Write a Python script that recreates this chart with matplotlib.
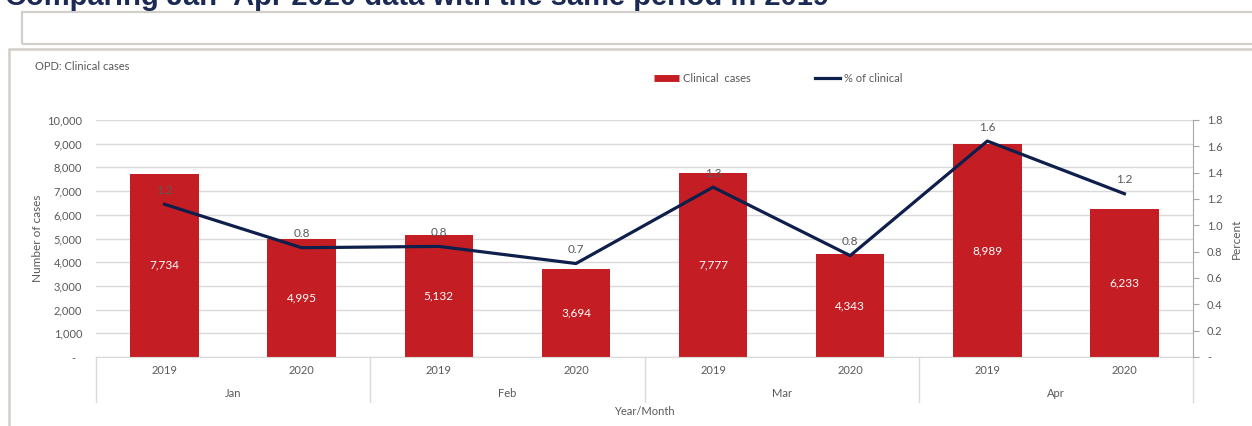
import matplotlib
matplotlib.use("Agg")
from matplotlib import pyplot as plt
from matplotlib.lines import Line2D
from matplotlib.patches import Rectangle
from matplotlib.ticker import FuncFormatter
import numpy as np

months = ["Jan", "Feb", "Mar", "Apr"]
years = ["2019", "2020"]
cases = [7734, 4995, 5132, 3694, 7777, 4343, 8989, 6233]
pct_clinical = [1.16, 0.83, 0.84, 0.71, 1.29, 0.77, 1.64, 1.24]

W, H = 1252, 426
BAR = "#c41e24"
NAVY = "#0f1f4b"
GREY_TXT = "#595959"
GRID = "#d9d9d9"
FRAME = "#d2cec9"

plt.rcParams["font.family"] = ["Lato", "DejaVu Sans"]

fig = plt.figure(figsize=(W / 100, H / 100), dpi=100)


def px(x, y):
    # pixel position (from top-left) to figure fraction
    return x / W, 1 - y / H


# heading that runs off the top edge, and the two panel frames
fig.text(*px(5, 5), "Comparing Jan\u2013Apr 2020 data with the same period in 2019",
         fontsize=21, fontweight="bold", color="#1b2a55", va="baseline",
         family=["Liberation Sans", "DejaVu Sans"])
fig.patches.append(Rectangle(px(22, 44), (W + 20 - 22) / W, 32 / H,
                             transform=fig.transFigure, fill=False,
                             edgecolor=FRAME, lw=1.6))
fig.patches.append(Rectangle(px(9, H + 20), (W + 20 - 9) / W, (H + 20 - 49) / H,
                             transform=fig.transFigure, fill=False,
                             edgecolor=FRAME, lw=1.8))

left, right, top, bottom = 96, 1193, 120, 357
ax = fig.add_axes([left / W, 1 - bottom / H, (right - left) / W, (bottom - top) / H])
ax2 = ax.twinx()

x = np.arange(len(cases))
bars = ax.bar(x, cases, width=0.5, color=BAR, zorder=2)
ax.set_xlim(-0.5, len(cases) - 0.5)
ax.set_ylim(0, 10000)
ax.set_yticks(np.arange(0, 10001, 1000))
ax.yaxis.set_major_formatter(FuncFormatter(lambda v, p: "-  " if v == 0 else f"{v:,.0f}"))
ax.grid(axis="y", color=GRID, lw=1, zorder=0)
ax.set_axisbelow(True)
ax.tick_params(axis="y", length=0, pad=10, labelsize=8, labelcolor=GREY_TXT)
ax.set_ylabel("Number of cases", fontsize=8.5, color=GREY_TXT, labelpad=3)
for s in ["left", "right", "top"]:
    ax.spines[s].set_visible(False)
ax.spines["bottom"].set_color(GRID)

# year labels under each bar
ax.set_xticks(x)
ax.set_xticklabels(years * len(months))
ax.tick_params(axis="x", length=0, pad=6, labelsize=8, labelcolor=GREY_TXT)

# month group labels and separators
sep_t = ax.get_xaxis_transform()
for i in range(len(months) + 1):
    ax.add_line(Line2D([i * 2 - 0.5] * 2, [0, -0.19], transform=sep_t,
                       color=GRID, lw=1, clip_on=False))
for i, m in enumerate(months):
    ax.text(i * 2 + 0.5, -0.155, m, transform=sep_t, ha="center", va="center",
            fontsize=8, color=GREY_TXT)
ax.text(3.5, -0.228, "Year/Month", transform=sep_t, ha="center", va="center",
        fontsize=8, color=GREY_TXT)

for b, v in zip(bars, cases):
    ax.text(b.get_x() + b.get_width() / 2, v / 2, f"{v:,}", ha="center", va="center",
            fontsize=8.5, color="white", zorder=3)

# percent line on the right axis
ax2.plot(x, pct_clinical, color=NAVY, lw=2.3, zorder=4)
for xi, p in zip(x, pct_clinical):
    ax2.annotate(f"{p:.1f}", (xi, p), xytext=(0, 6), textcoords="offset points",
                 ha="center", va="bottom", fontsize=8.5, color=GREY_TXT)
ax2.set_ylim(0, 1.8)
ax2.set_yticks(np.arange(0, 1.81, 0.2))
ax2.yaxis.set_major_formatter(FuncFormatter(lambda v, p: "-" if abs(v) < 1e-9 else f"{v:.1f}"))
ax2.tick_params(axis="y", length=4, color="#a6a6a6", pad=6, labelsize=8, labelcolor=GREY_TXT)
ax2.set_ylabel("Percent", fontsize=8.5, color=GREY_TXT, labelpad=6)
for s in ["left", "top", "bottom"]:
    ax2.spines[s].set_visible(False)
ax2.spines["right"].set_color("#a6a6a6")

fig.text(*px(35, 66), "OPD: Clinical cases", fontsize=8, color=GREY_TXT, va="center")

handles = [Line2D([], [], color=BAR, lw=5, solid_capstyle="butt"),
           Line2D([], [], color=NAVY, lw=2.3)]
fig.legend(handles, ["Clinical  cases", "% of clinical"], loc="center",
           bbox_to_anchor=px(778, 78), ncol=2, frameon=False, fontsize=8,
           handlelength=2.3, handletextpad=0.3, columnspacing=5.8,
           labelcolor=GREY_TXT)

fig.savefig("out.png", dpi=100)
